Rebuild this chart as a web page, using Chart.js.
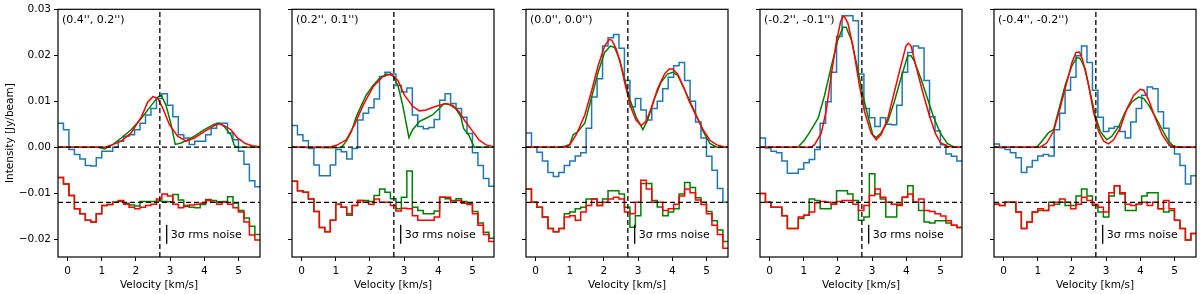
<html>

<head>
    <script src="https://cdn.jsdelivr.net/npm/chart.js@4.4.0/dist/chart.umd.min.js"></script>
    <style>
        body { margin: 0; background: #fff; }
        #wrap { position: relative; width: 1200px; height: 294px; overflow: hidden; }
        canvas { position: absolute; top: 0; }
    </style>
</head>

<body>
    <div id="wrap"></div>
</body>

<script>
    // axis limits and reference lines
    var XMIN = -0.28, XMAX = 5.63, YMIN = -0.0239, YMAX = 0.03;
    var vSys = 2.7;
    var resOffset = -0.012;
    var noiseX = 2.9, noiseLow = -0.021, noiseHigh = -0.0169;

    var panelLabels = ["(0.4'', 0.2'')", "(0.2'', 0.1'')", "(0.0'', 0.0'')", "(-0.2'', -0.1'')", "(-0.4'', -0.2'')"];

    // channel centres [km/s]
    var vel = [-0.20, -0.04, 0.12, 0.28, 0.44, 0.60, 0.76, 0.92, 1.08, 1.24, 1.40, 1.56, 1.72, 1.88, 2.04, 2.20, 2.36, 2.52, 2.68,
        2.84, 3.00, 3.16, 3.32, 3.48, 3.64, 3.80, 3.96, 4.12, 4.28, 4.44, 4.60, 4.76, 4.92, 5.08, 5.24, 5.40, 5.56];

    // observed spectra [Jy/beam]
    var obs1 = [0.0052, 0.0038, -0.0005, -0.0016, -0.0026, -0.0040, -0.0041, -0.0023, -0.0009, -0.0009, 0.0000, 0.0013, 0.0024, 0.0027, 0.0038, 0.0052, 0.0070, 0.0084, 0.0106,
        0.0116, 0.0091, 0.0066, 0.0027, 0.0020, 0.0006, 0.0013, 0.0013, 0.0027, 0.0041, 0.0052, 0.0052, 0.0031, 0.0016, -0.0009, -0.0037, -0.0073, -0.0086];
    var obs2 = [0.0047, 0.0027, 0.0014, -0.0003, -0.0039, -0.0062, -0.0062, -0.0039, -0.0005, -0.0010, -0.0026, -0.0003, 0.0059, 0.0074, 0.0086, 0.0105, 0.0154, 0.0163, 0.0159,
        0.0134, 0.0120, 0.0129, 0.0070, 0.0045, 0.0040, 0.0043, 0.0060, 0.0102, 0.0116, 0.0095, 0.0084, 0.0065, 0.0030, -0.0012, -0.0040, -0.0068, -0.0085];
    var obs3 = [0.0031, 0.0000, -0.0011, -0.0030, -0.0055, -0.0064, -0.0055, -0.0040, -0.0030, -0.0019, -0.0012, 0.0041, 0.0109, 0.0149, 0.0220, 0.0238, 0.0245, 0.0215, 0.0145,
        0.0088, 0.0106, 0.0081, 0.0059, 0.0084, 0.0100, 0.0127, 0.0152, 0.0177, 0.0184, 0.0145, 0.0100, 0.0055, 0.0020, -0.0020, -0.0050, -0.0090, -0.0120];
    var obs4 = [0.0020, -0.0002, -0.0009, -0.0012, -0.0030, -0.0057, -0.0057, -0.0048, -0.0034, -0.0027, -0.0005, 0.0052, 0.0099, 0.0163, 0.0241, 0.0286, 0.0286, 0.0275, 0.0159,
        0.0084, 0.0064, 0.0045, 0.0064, 0.0050, 0.0049, 0.0091, 0.0163, 0.0206, 0.0220, 0.0216, 0.0145, 0.0066, 0.0035, 0.0005, -0.0015, -0.0020, -0.0030];
    var obs5 = [0.0007, -0.0001, -0.0005, -0.0012, -0.0023, -0.0055, -0.0043, -0.0029, -0.0019, -0.0016, -0.0019, 0.0038, 0.0074, 0.0124, 0.0152, 0.0199, 0.0220, 0.0184, 0.0124,
        0.0065, 0.0034, 0.0041, 0.0045, 0.0034, 0.0020, 0.0055, 0.0084, 0.0113, 0.0131, 0.0127, 0.0077, 0.0041, 0.0003, -0.0015, -0.0040, -0.0080, -0.0062];

    // residuals (shifted by -0.012)
    var res1R = [-0.0066, -0.0080, -0.0105, -0.0134, -0.0145, -0.0159, -0.0163, -0.0145, -0.0127, -0.0125, -0.0120, -0.0116, -0.0124, -0.0131, -0.0134, -0.0131, -0.0127, -0.0124, -0.0113,
        -0.0102, -0.0106, -0.0124, -0.0132, -0.0127, -0.0126, -0.0124, -0.0122, -0.0116, -0.0120, -0.0124, -0.0120, -0.0124, -0.0132, -0.0141, -0.0163, -0.0191, -0.0202];
    var res1G = [-0.0066, -0.0080, -0.0105, -0.0134, -0.0145, -0.0159, -0.0163, -0.0145, -0.0127, -0.0125, -0.0120, -0.0118, -0.0122, -0.0126, -0.0128, -0.0118, -0.0118, -0.0118, -0.0117,
        -0.0118, -0.0119, -0.0103, -0.0115, -0.0129, -0.0131, -0.0132, -0.0125, -0.0114, -0.0116, -0.0119, -0.0118, -0.0108, -0.0122, -0.0138, -0.0154, -0.0172, -0.0190];
    var res2R = [-0.0074, -0.0095, -0.0098, -0.0113, -0.0140, -0.0175, -0.0184, -0.0159, -0.0124, -0.0131, -0.0145, -0.0127, -0.0116, -0.0120, -0.0124, -0.0113, -0.0120, -0.0120, -0.0127,
        -0.0139, -0.0133, -0.0134, -0.0149, -0.0159, -0.0159, -0.0159, -0.0152, -0.0109, -0.0109, -0.0120, -0.0116, -0.0122, -0.0125, -0.0145, -0.0170, -0.0190, -0.0205];
    var res2G = [-0.0074, -0.0095, -0.0098, -0.0113, -0.0140, -0.0175, -0.0184, -0.0159, -0.0124, -0.0131, -0.0148, -0.0127, -0.0116, -0.0116, -0.0118, -0.0105, -0.0091, -0.0098, -0.0112,
        -0.0134, -0.0109, -0.0052, -0.0131, -0.0138, -0.0145, -0.0145, -0.0139, -0.0109, -0.0112, -0.0116, -0.0112, -0.0118, -0.0122, -0.0140, -0.0165, -0.0185, -0.0198];
    var res3R = [-0.0091, -0.0120, -0.0131, -0.0152, -0.0177, -0.0184, -0.0177, -0.0152, -0.0149, -0.0159, -0.0141, -0.0127, -0.0113, -0.0127, -0.0120, -0.0113, -0.0109, -0.0113, -0.0141,
        -0.0145, -0.0120, -0.0072, -0.0091, -0.0120, -0.0120, -0.0138, -0.0134, -0.0124, -0.0106, -0.0091, -0.0099, -0.0115, -0.0125, -0.0145, -0.0170, -0.0190, -0.0220];
    var res3G = [-0.0091, -0.0120, -0.0131, -0.0152, -0.0177, -0.0184, -0.0177, -0.0145, -0.0141, -0.0134, -0.0131, -0.0113, -0.0113, -0.0127, -0.0113, -0.0095, -0.0095, -0.0102, -0.0131,
        -0.0174, -0.0149, -0.0079, -0.0079, -0.0116, -0.0130, -0.0149, -0.0141, -0.0134, -0.0102, -0.0077, -0.0088, -0.0110, -0.0120, -0.0140, -0.0160, -0.0180, -0.0205];
    var res4R = [-0.0101, -0.0120, -0.0131, -0.0131, -0.0149, -0.0177, -0.0177, -0.0152, -0.0148, -0.0141, -0.0121, -0.0118, -0.0120, -0.0124, -0.0118, -0.0116, -0.0116, -0.0124, -0.0138,
        -0.0127, -0.0105, -0.0091, -0.0109, -0.0120, -0.0124, -0.0127, -0.0109, -0.0102, -0.0120, -0.0113, -0.0138, -0.0140, -0.0145, -0.0150, -0.0160, -0.0170, -0.0175];
    var res4G = [-0.0101, -0.0120, -0.0131, -0.0131, -0.0149, -0.0177, -0.0177, -0.0155, -0.0148, -0.0113, -0.0116, -0.0134, -0.0134, -0.0124, -0.0095, -0.0095, -0.0102, -0.0116, -0.0159,
        -0.0152, -0.0058, -0.0102, -0.0113, -0.0152, -0.0152, -0.0124, -0.0109, -0.0084, -0.0120, -0.0138, -0.0163, -0.0165, -0.0160, -0.0160, -0.0165, -0.0170, -0.0175];
    var res5R = [-0.0124, -0.0127, -0.0120, -0.0120, -0.0141, -0.0177, -0.0163, -0.0141, -0.0134, -0.0138, -0.0127, -0.0120, -0.0113, -0.0120, -0.0134, -0.0124, -0.0109, -0.0116, -0.0124,
        -0.0131, -0.0141, -0.0099, -0.0084, -0.0099, -0.0124, -0.0127, -0.0124, -0.0120, -0.0127, -0.0120, -0.0134, -0.0116, -0.0134, -0.0159, -0.0177, -0.0202, -0.0188];
    var res5G = [-0.0124, -0.0127, -0.0120, -0.0120, -0.0141, -0.0177, -0.0163, -0.0141, -0.0138, -0.0138, -0.0120, -0.0124, -0.0120, -0.0127, -0.0127, -0.0106, -0.0091, -0.0106, -0.0127,
        -0.0141, -0.0152, -0.0106, -0.0084, -0.0102, -0.0138, -0.0138, -0.0124, -0.0106, -0.0099, -0.0099, -0.0134, -0.0141, -0.0138, -0.0159, -0.0177, -0.0202, -0.0188];

    // model fits (green and red)
    var green1V = [-0.28, 0.90, 1.08, 1.33, 1.57, 1.86, 2.16, 2.45, 2.64, 2.74, 2.88, 3.03, 3.15, 3.32, 3.51, 3.71, 4.00, 4.29, 4.44, 4.58, 4.78, 4.87, 4.92, 5.63];
    var green1F = [0, 0, -0.0004, 0.0006, 0.0020, 0.0038, 0.0063, 0.0091, 0.0109, 0.0113, 0.0091, 0.0049, 0.0006, 0.0009, 0.0016, 0.0024, 0.0038, 0.0050, 0.0052, 0.0045, 0.0027, 0.0006, 0, 0];
    var red1V = [-0.28, 0.90, 1.09, 1.30, 1.57, 1.86, 2.16, 2.35, 2.50, 2.64, 2.79, 2.98, 3.22, 3.47, 3.71, 4.00, 4.29, 4.44, 4.58, 4.78, 4.97, 5.20, 5.40, 5.63];
    var red1F = [0, 0, 0.0000, 0.0005, 0.0013, 0.0031, 0.0066, 0.0099, 0.0110, 0.0106, 0.0084, 0.0049, 0.0024, 0.0013, 0.0020, 0.0034, 0.0047, 0.0051, 0.0047, 0.0038, 0.0020, 0.0008, 0.0003, 0.0001];

    var green2V = [-0.28, 1.02, 1.17, 1.31, 1.46, 1.60, 1.75, 1.89, 2.09, 2.28, 2.48, 2.67, 2.82, 2.96, 3.14, 3.25, 3.45, 3.64, 3.83, 4.03, 4.17, 4.32, 4.51, 4.66, 4.74, 4.90, 5.05, 5.63];
    var green2F = [0, -0.0001, 0, 0.0013, 0.0034, 0.0066, 0.0091, 0.0113, 0.0134, 0.0150, 0.0159, 0.0156, 0.0134, 0.0091, 0.0021, 0.0038, 0.0056, 0.0063, 0.0070, 0.0084, 0.0095, 0.0093, 0.0084, 0.0066, 0.0041, 0.0025, 0, 0];
    var red2V = [-0.28, 0.80, 1.02, 1.31, 1.55, 1.80, 2.09, 2.38, 2.62, 2.82, 3.01, 3.25, 3.45, 3.64, 3.93, 4.22, 4.42, 4.61, 4.76, 5.00, 5.20, 5.40, 5.63];
    var red2F = [0, 0, 0.0004, 0.0016, 0.0049, 0.0091, 0.0131, 0.0154, 0.0159, 0.0145, 0.0113, 0.0089, 0.0079, 0.0081, 0.0089, 0.0095, 0.0091, 0.0077, 0.0059, 0.0035, 0.0015, 0.0005, 0.0001];

    var green3V = [-0.28, 0.70, 0.85, 1.00, 1.10, 1.24, 1.44, 1.63, 1.83, 2.02, 2.19, 2.31, 2.46, 2.60, 2.75, 2.94, 3.14, 3.28, 3.48, 3.67, 3.86, 4.01, 4.16, 4.35, 4.50, 4.70, 4.90, 5.10, 5.30, 5.63];
    var green3F = [0, 0, 0.0002, 0.0006, 0.0027, 0.0034, 0.0052, 0.0106, 0.0163, 0.0206, 0.0220, 0.0217, 0.0191, 0.0149, 0.0106, 0.0066, 0.0038, 0.0059, 0.0106, 0.0141, 0.0159, 0.0163, 0.0156, 0.0127, 0.0102, 0.0070, 0.0035, 0.0008, 0, 0];
    var red3V = [-0.28, 0.85, 1.00, 1.19, 1.44, 1.63, 1.83, 2.02, 2.15, 2.23, 2.36, 2.50, 2.65, 2.80, 2.94, 3.09, 3.23, 3.38, 3.57, 3.77, 3.91, 4.01, 4.16, 4.35, 4.50, 4.70, 4.90, 5.10, 5.30, 5.50, 5.63];
    var red3F = [0, 0, 0.0005, 0.0027, 0.0070, 0.0120, 0.0177, 0.0220, 0.0234, 0.0233, 0.0214, 0.0177, 0.0127, 0.0084, 0.0059, 0.0047, 0.0056, 0.0084, 0.0127, 0.0159, 0.0170, 0.0170, 0.0159, 0.0127, 0.0099, 0.0068, 0.0038, 0.0015, 0.0005, 0.0001, 0];

    var green4V = [-0.28, 0.70, 0.83, 1.03, 1.22, 1.42, 1.61, 1.81, 2.00, 2.15, 2.24, 2.39, 2.58, 2.73, 2.87, 3.02, 3.12, 3.26, 3.46, 3.65, 3.84, 4.04, 4.14, 4.23, 4.43, 4.62, 4.80, 5.00, 5.20, 5.40, 5.63];
    var green4F = [0, 0, 0, 0.0016, 0.0038, 0.0063, 0.0113, 0.0177, 0.0234, 0.0261, 0.0261, 0.0234, 0.0170, 0.0113, 0.0070, 0.0027, 0.0021, 0.0031, 0.0056, 0.0099, 0.0149, 0.0199, 0.0199, 0.0188, 0.0149, 0.0106, 0.0065, 0.0030, 0.0008, 0, 0];
    var red4V = [-0.28, 1.10, 1.22, 1.32, 1.51, 1.66, 1.81, 1.95, 2.08, 2.15, 2.19, 2.29, 2.44, 2.63, 2.78, 2.97, 3.12, 3.26, 3.46, 3.65, 3.84, 3.99, 4.06, 4.14, 4.28, 4.48, 4.67, 4.85, 5.00, 5.20, 5.40, 5.63];
    var red4F = [0, 0, 0, 0.0006, 0.0030, 0.0080, 0.0160, 0.0227, 0.0274, 0.0284, 0.0284, 0.0270, 0.0220, 0.0134, 0.0077, 0.0031, 0.0016, 0.0027, 0.0063, 0.0120, 0.0177, 0.0220, 0.0226, 0.0220, 0.0177, 0.0120, 0.0070, 0.0030, 0.0010, 0.0002, 0, 0];

    var green5V = [-0.28, 0.80, 0.97, 1.12, 1.31, 1.46, 1.60, 1.80, 2.00, 2.14, 2.24, 2.39, 2.53, 2.68, 2.83, 3.02, 3.17, 3.37, 3.56, 3.76, 3.95, 4.10, 4.25, 4.44, 4.64, 4.83, 4.98, 5.15, 5.63];
    var green5F = [0, 0, 0, 0.0013, 0.0031, 0.0038, 0.0077, 0.0134, 0.0177, 0.0195, 0.0193, 0.0170, 0.0120, 0.0070, 0.0034, 0.0016, 0.0024, 0.0045, 0.0077, 0.0099, 0.0109, 0.0106, 0.0091, 0.0066, 0.0038, 0.0013, 0.0002, 0, 0];
    var red5V = [-0.28, 0.90, 1.07, 1.26, 1.46, 1.65, 1.85, 2.00, 2.12, 2.22, 2.31, 2.49, 2.63, 2.78, 2.93, 3.07, 3.22, 3.41, 3.61, 3.81, 4.00, 4.10, 4.25, 4.44, 4.64, 4.83, 5.03, 5.63];
    var red5F = [0, 0, 0, 0.0009, 0.0034, 0.0084, 0.0141, 0.0184, 0.0206, 0.0207, 0.0191, 0.0134, 0.0077, 0.0034, 0.0013, 0.0007, 0.0016, 0.0041, 0.0084, 0.0113, 0.0126, 0.0124, 0.0102, 0.0063, 0.0027, 0.0006, 0, 0];

    var panels = [
        { obs: obs1, resR: res1R, resG: res1G, gV: green1V, gF: green1F, rV: red1V, rF: red1F },
        { obs: obs2, resR: res2R, resG: res2G, gV: green2V, gF: green2F, rV: red2V, rF: red2F },
        { obs: obs3, resR: res3R, resG: res3G, gV: green3V, gF: green3F, rV: red3V, rF: red3F },
        { obs: obs4, resR: res4R, resG: res4G, gV: green4V, gF: green4F, rV: red4V, rF: red4F },
        { obs: obs5, resR: res5R, resG: res5G, gV: green5V, gF: green5F, rV: red5V, rF: red5F }
    ];

    var plotLeft = [58, 292, 526, 760, 994];
    var plotW = 202;

    Chart.defaults.font.family = 'DejaVu Sans';
    Chart.defaults.color = '#000';

    function steps(vals) {
        var pts = [{ x: XMIN, y: vals[0] }];
        for (var i = 0; i < vel.length; i++) pts.push({ x: vel[i], y: vals[i] });
        pts.push({ x: XMAX, y: vals[vals.length - 1] });
        return pts;
    }

    function curve(vs, fs) {
        return vs.map(function(v, i) { return { x: v, y: fs[i] }; });
    }

    function line(data, color, width, dash, stepped) {
        return {
            data: data,
            borderColor: color,
            borderWidth: width,
            borderDash: dash || [],
            stepped: stepped || false,
            pointRadius: 0,
            tension: 0,
            fill: false
        };
    }

    var panelDecor = {
        id: 'panelDecor',
        afterDraw: function(chart, args, opts) {
            var a = chart.chartArea, ctx = chart.ctx;
            var xs = chart.scales.x, ys = chart.scales.y;
            ctx.save();
            ctx.strokeStyle = '#000';
            ctx.lineWidth = 1.2;
            ctx.strokeRect(a.left, a.top, a.right - a.left, a.bottom - a.top);
            ctx.fillStyle = '#000';
            ctx.font = '11px "DejaVu Sans"';
            ctx.textBaseline = 'middle';
            ctx.fillText(opts.label, a.left + 4, a.top + 11);
            ctx.fillText('3σ rms noise', xs.getPixelForValue(noiseX) + 4, ys.getPixelForValue(-0.0191));
            ctx.restore();
        }
    };

    var wrap = document.getElementById('wrap');

    panels.forEach(function(p, k) {
        var first = k === 0;
        var yw = first ? 58 : 20;
        var cv = document.createElement('canvas');
        cv.width = yw + plotW + 4;
        cv.height = 294;
        cv.style.left = (plotLeft[k] - yw) + 'px';
        wrap.appendChild(cv);

        var datasets = [
            line([{ x: XMIN, y: 0 }, { x: XMAX, y: 0 }], '#000', 1.3, [5, 3]),
            line([{ x: XMIN, y: resOffset }, { x: XMAX, y: resOffset }], '#000', 1.3, [5, 3]),
            line([{ x: vSys, y: YMIN }, { x: vSys, y: YMAX }], '#000', 1.3, [5, 3]),
            line([{ x: noiseX, y: noiseHigh }, { x: noiseX, y: noiseLow }], '#000', 1.3),
            line(curve(p.rV, p.rF), '#ff0000', 1.5),
            line(curve(p.gV, p.gF), '#008000', 1.5),
            line(steps(p.resR), '#ff0000', 1.5, null, 'middle'),
            line(steps(p.resG), '#008000', 1.5, null, 'middle'),
            line(steps(p.obs), '#1f77b4', 1.5, null, 'middle')
        ];

        new Chart(cv, {
            type: 'line',
            data: { datasets: datasets },
            plugins: [panelDecor],
            options: {
                responsive: false,
                animation: false,
                layout: { padding: { top: 6, right: 4, bottom: 0, left: 0 } },
                plugins: {
                    legend: { display: false },
                    tooltip: { enabled: false },
                    panelDecor: { label: panelLabels[k] }
                },
                scales: {
                    x: {
                        type: 'linear',
                        min: XMIN,
                        max: XMAX,
                        border: { display: false },
                        grid: { drawOnChartArea: false, drawTicks: true, tickLength: 4, color: '#000' },
                        ticks: { stepSize: 1, includeBounds: false, padding: 4, maxRotation: 0, font: { size: 10.5 } },
                        title: { display: true, text: 'Velocity [km/s]', font: { size: 10.5 }, padding: { top: 0, bottom: 2 } },
                        afterFit: function(s) { s.height = 37; }
                    },
                    y: {
                        type: 'linear',
                        min: YMIN,
                        max: YMAX,
                        border: { display: false },
                        grid: { drawOnChartArea: false, drawTicks: true, tickLength: 4, color: '#000' },
                        ticks: {
                            stepSize: 0.01,
                            includeBounds: false,
                            padding: 3,
                            color: first ? '#000' : 'rgba(0,0,0,0)',
                            font: { size: 10.5 },
                            callback: function(v) {
                                if (Math.abs(v) < 1e-9) return '0.00';
                                return v.toFixed(2).replace('-', '\u2212');
                            }
                        },
                        title: { display: first, text: 'Intensity [Jy/beam]', font: { size: 10.5 }, padding: { top: 4, bottom: 0 } },
                        afterFit: function(s) { s.width = yw; }
                    }
                }
            }
        });
    });
</script>

</html>
